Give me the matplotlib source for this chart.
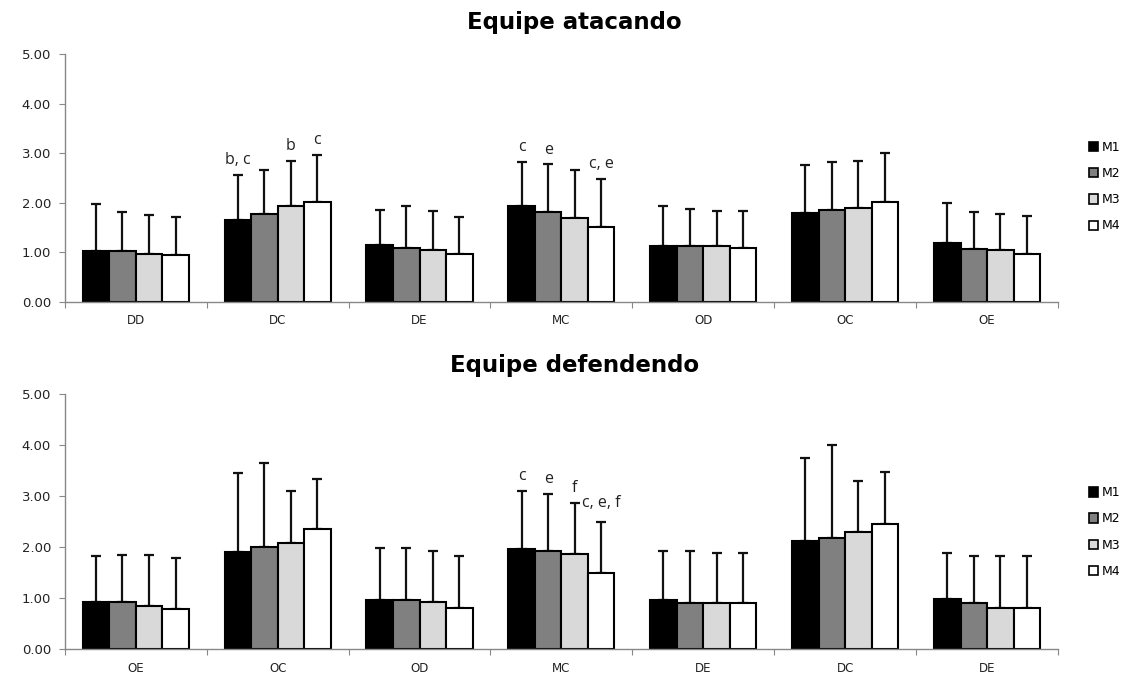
import numpy as np
import matplotlib
matplotlib.use("Agg")
import matplotlib.pyplot as plt
from matplotlib.patches import Patch

series = ["M1", "M2", "M3", "M4"]
colors = ["#000000", "#808080", "#d9d9d9", "#ffffff"]

# Equipe atacando
atk_cats = ["DD", "DC", "DE", "MC", "OD", "OC", "OE"]
atk_mean = [
    [1.02, 1.64, 1.15, 1.93, 1.12, 1.79, 1.18],   # M1
    [1.02, 1.78, 1.09, 1.81, 1.12, 1.85, 1.07],   # M2
    [0.97, 1.94, 1.05, 1.68, 1.12, 1.89, 1.05],   # M3
    [0.94, 2.02, 0.97, 1.51, 1.09, 2.02, 0.97],   # M4
]
atk_sd = [
    [0.95, 0.91, 0.71, 0.89, 0.81, 0.96, 0.81],
    [0.80, 0.87, 0.84, 0.96, 0.76, 0.98, 0.74],
    [0.78, 0.91, 0.78, 0.97, 0.71, 0.96, 0.73],
    [0.76, 0.94, 0.73, 0.96, 0.74, 0.98, 0.76],
]
atk_notes = [(1, 0, "b, c"), (1, 2, "b"), (1, 3, "c"),
             (3, 0, "c"), (3, 1, "e"), (3, 3, "c, e")]

# Equipe defendendo
def_cats = ["OE", "OC", "OD", "MC", "DE", "DC", "DE"]
def_mean = [
    [0.92, 1.90, 0.96, 1.97, 0.96, 2.12, 0.99],
    [0.92, 2.01, 0.96, 1.92, 0.90, 2.19, 0.90],
    [0.84, 2.09, 0.92, 1.86, 0.90, 2.29, 0.82],
    [0.79, 2.35, 0.82, 1.49, 0.90, 2.46, 0.82],
]
def_sd = [
    [0.90, 1.55, 1.03, 1.14, 0.96, 1.62, 0.90],
    [0.92, 1.64, 1.03, 1.12, 1.02, 1.81, 0.92],
    [1.00, 1.01, 1.00, 1.00, 0.99, 1.00, 1.00],
    [1.00, 0.99, 1.00, 1.00, 0.99, 1.01, 1.00],
]
def_notes = [(3, 0, "c"), (3, 1, "e"), (3, 2, "f")]

tick_font = "DejaVu Sans"
note_font = "Open Sans"
title_font = "DejaVu Sans"


def draw_panel(ax, cats, means, sds, notes, title_y, title, leg_y):
    x = np.arange(len(cats))
    width = 0.187
    for k in range(len(series)):
        pos = x + (k - 1.5) * width
        ax.bar(pos, means[k], width, color=colors[k], edgecolor="black",
               linewidth=1.5, zorder=2)
        ax.errorbar(pos, means[k],
                    yerr=[np.zeros(len(cats)), sds[k]],
                    fmt="none", ecolor="#111111", elinewidth=1.6,
                    capsize=3.5, capthick=1.6, zorder=1)
    for (g, k, txt) in notes:
        top = means[k][g] + sds[k][g]
        ax.text(g + (k - 1.5) * width, top + 0.14, txt, ha="center",
                va="bottom", fontsize=11.5, family=note_font, color="#222222")

    ax.set_xlim(-0.5, len(cats) - 0.5)
    ax.set_ylim(0, 5)
    ax.set_yticks(np.arange(0, 5.01, 1.0))
    ax.set_yticklabels(["%.2f" % v for v in np.arange(0, 5.01, 1.0)],
                       fontsize=9.5, family=tick_font, color="#222222")
    # category boundaries carry the tick marks, labels sit at the centres
    ax.set_xticks(np.arange(-0.5, len(cats), 1.0))
    ax.set_xticklabels([])
    ax.set_xticks(x, minor=True)
    ax.set_xticklabels(cats, minor=True, fontsize=8.5, family=tick_font,
                       color="#222222")
    ax.tick_params(axis="x", which="minor", length=0, pad=9)
    ax.tick_params(axis="x", which="major", length=4, color="#888888",
                   direction="out")
    ax.tick_params(axis="y", length=4, color="#888888", direction="out",
                   pad=6)
    for side in ["top", "right"]:
        ax.spines[side].set_visible(False)
    for side in ["left", "bottom"]:
        ax.spines[side].set_color("#888888")
        ax.spines[side].set_linewidth(1.0)

    handles = [Patch(facecolor=colors[k], edgecolor="black", linewidth=1.2)
               for k in range(len(series))]
    ax.legend(handles, series, loc="center left",
              bbox_to_anchor=(1.02, leg_y), frameon=False,
              handlelength=0.75, handleheight=0.75, handletextpad=0.25,
              labelspacing=1.05, prop={"family": tick_font, "size": 9})

    fig = ax.figure
    fig.text(0.509, title_y, title, ha="center", va="center",
             fontsize=16.5, fontweight="bold", family=title_font)


fig = plt.figure(figsize=(11.29, 6.75), dpi=100)
ax1 = fig.add_axes([0.0574, 0.553, 0.8797, 0.367])
ax2 = fig.add_axes([0.0574, 0.038, 0.8797, 0.378])

draw_panel(ax1, atk_cats, atk_mean, atk_sd, atk_notes, 0.967,
           "Equipe atacando", 0.464)
draw_panel(ax2, def_cats, def_mean, def_sd, def_notes, 0.459,
           "Equipe defendendo", 0.46)

# the M4 note of the MC group sits beside the M3 whisker
mc_top = def_mean[2][3] + def_sd[2][3]
ax2.text(3 + 1.5 * 0.187, mc_top, "c, e, f", ha="center", va="center",
         fontsize=11.5, family=note_font, color="#222222")

fig.savefig("out.png", dpi=100)
